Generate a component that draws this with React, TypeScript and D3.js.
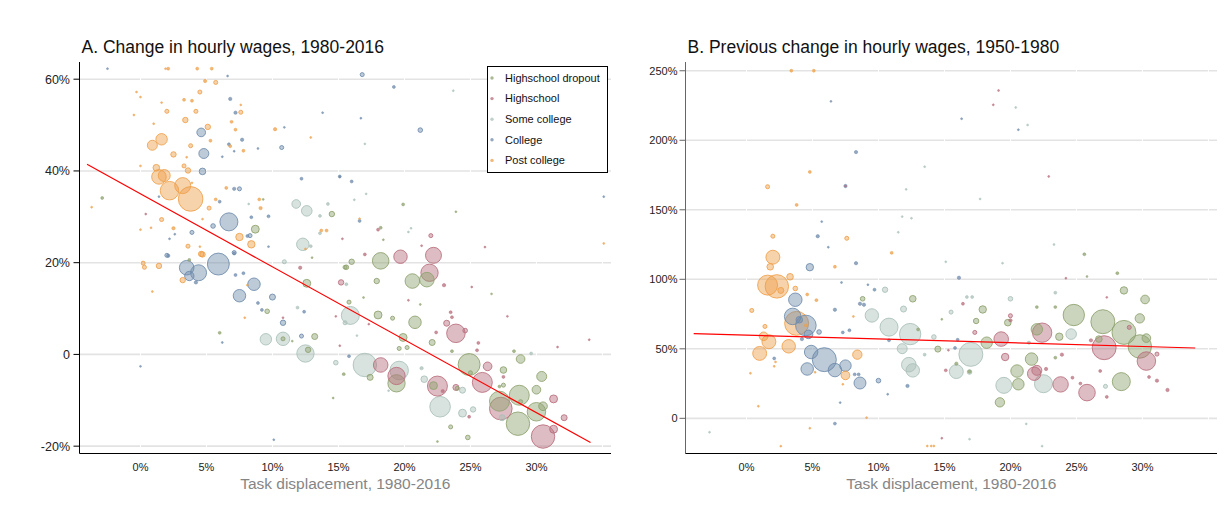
import React from 'react';
import * as d3 from 'd3';

// [task displacement %, wage change %, employment share]
type Pt = [number, number, number];

const groups = ['Highschool dropout', 'Highschool', 'Some college', 'College', 'Post college'];
const groupColors = ['#8ea26f', '#b86e7c', '#a9bfb8', '#6f8bab', '#eea04a'];

const xTicks = [0, 5, 10, 15, 20, 25, 30];
const xGrid = [0, 5, 10, 15, 20, 25, 30, 35];
const yTicksA = [-20, 0, 20, 40, 60];
const yTicksB = [0, 50, 100, 150, 200, 250];

const fitA = { intercept: 35.0, slope: -1.59, from: -4.05, to: 34.1 };
const fitB = { intercept: 59.8, slope: -0.271, from: -4.0, to: 34.0 };

// Panel A: change in hourly wages 1980-2016
const aDropout: Pt[] = [
  [-2.9, 34.1, 0.014], [8.7, 27.3, 0.1], [14.5, 30.6, 0.047], [9.3, 33.8, 0.006], [3.7, 20.6, 0.014],
  [13.0, 21.1, 0.006], [19.9, 32.7, 0.014], [23.9, 31.1, 0.006], [18.2, 27.6, 0.014],
  [13.2, 3.9, 0.058], [12.7, 1.0, 0.047], [12.6, 15.5, 0.1], [9.6, 9.4, 0.034], [6.0, 4.7, 0.014],
  [15.4, -4.3, 0.014], [15.6, 19.0, 0.034], [10.8, 3.4, 0.026], [11.5, 2.9, 0.006],
  [18.2, 20.4, 0.44], [16.0, 20.2, 0.047], [15.5, 19.0, 0.026], [17.9, 16.0, 0.047], [18.0, 8.6, 0.1],
  [19.1, 7.9, 0.026], [20.8, 7.0, 0.25], [21.7, 16.3, 0.34], [20.6, 16.0, 0.34], [15.8, 11.4, 0.026],
  [19.9, 3.7, 0.1], [22.1, 2.6, 0.058], [19.6, 1.3, 0.026], [20.2, 1.5, 0.026], [23.6, 0.7, 0.014],
  [17.4, -5.0, 0.058], [19.4, -6.3, 0.48], [22.2, -6.8, 0.1], [24.9, -2.2, 0.77], [25.0, -4.0, 0.026],
  [27.5, -3.4, 0.07], [28.8, -1.0, 0.12], [30.4, -4.8, 0.16], [30.0, -7.7, 0.12], [28.7, -8.9, 0.64],
  [27.2, -10.2, 0.64], [28.6, -15.1, 0.88], [30.0, -12.5, 0.55], [30.5, -11.3, 0.12], [23.5, -15.8, 0.026],
  [24.8, -18.1, 0.034], [28.8, -10.3, 0.026], [24.0, -7.4, 0.026], [27.5, -6.7, 0.026], [28.3, 0.7, 0.014],
  [27.2, -7.0, 0.014], [16.9, 12.4, 0.006], [21.2, 10.9, 0.006], [26.6, 13.2, 0.006], [14.6, -9.5, 0.006],
  [22.5, -19.0, 0.006], [18.4, 25.0, 0.006],
];
const aHighschool: Pt[] = [
  [0.4, 30.6, 0.006], [15.3, 25.2, 0.006], [18.0, 27.2, 0.014], [22.0, 25.9, 0.026], [21.3, 23.7, 0.006],
  [26.1, 23.4, 0.006], [12.1, 18.9, 0.018], [15.2, 15.7, 0.047], [10.8, 8.0, 0.006], [14.8, 8.3, 0.006],
  [15.1, 1.9, 0.006], [19.7, 21.3, 0.29], [22.2, 21.6, 0.41], [21.9, 17.8, 0.48], [17.0, 21.8, 0.014],
  [23.0, 15.1, 0.018], [23.9, 4.6, 0.55], [23.2, 6.8, 0.058], [24.6, 5.2, 0.034], [22.4, 4.8, 0.014],
  [18.2, -2.3, 0.34], [19.4, -4.7, 0.48], [22.5, -6.9, 0.64], [22.9, -8.0, 0.018], [25.9, -6.1, 0.64],
  [26.3, -2.6, 0.12], [27.5, -4.9, 0.014], [31.3, -9.7, 0.1], [27.3, -11.8, 0.82], [30.5, -17.9, 0.88],
  [31.3, -16.3, 0.1], [32.1, -13.8, 0.058], [23.9, -7.2, 0.058], [24.9, -13.6, 0.014], [23.5, 9.2, 0.014],
  [23.6, 8.1, 0.014], [25.6, 2.5, 0.014], [25.5, 0.9, 0.014], [34.0, 3.2, 0.006], [31.6, 1.6, 0.006],
  [20.3, 11.8, 0.006], [17.3, 6.6, 0.006], [27.8, 8.3, 0.006], [25.1, 14.7, 0.006],
];
const aSomeCollege: Pt[] = [
  [11.8, 32.8, 0.12], [12.6, 31.3, 0.18], [14.2, 32.8, 0.014], [13.6, 30.2, 0.014], [12.3, 24.0, 0.25],
  [12.9, 23.6, 0.014], [13.6, 26.4, 0.014], [8.2, 32.8, 0.006], [10.9, 20.2, 0.026], [23.7, 57.5, 0.006],
  [17.0, 45.9, 0.006], [16.2, 33.7, 0.006], [17.1, 35.0, 0.006], [20.3, 26.7, 0.006], [20.5, 27.5, 0.006],
  [9.5, 3.3, 0.21], [10.8, 3.4, 0.29], [12.5, 0.2, 0.48], [11.9, 10.2, 0.014], [14.8, -1.8, 0.034],
  [15.6, 15.3, 0.014], [15.9, 8.5, 0.52], [17.0, -2.3, 0.88], [19.6, -3.5, 0.55], [21.5, -5.4, 0.07],
  [21.3, -3.0, 0.018], [22.7, -11.4, 0.68], [24.4, -12.8, 0.1], [25.2, -12.0, 0.047], [27.4, -13.8, 0.058],
  [24.4, -7.8, 0.058], [29.6, 0.2, 0.014], [15.5, 6.9, 0.026], [16.4, 4.1, 0.006], [18.8, -7.9, 0.006],
];
const aCollege: Pt[] = [
  [-2.5, 62.3, 0.006], [6.6, 60.7, 0.006], [6.8, 55.7, 0.018], [7.2, 52.7, 0.018], [4.6, 48.4, 0.12],
  [4.8, 43.8, 0.16], [4.7, 39.9, 0.07], [7.7, 46.8, 0.018], [10.7, 45.1, 0.026], [6.7, 45.8, 0.014],
  [7.1, 44.3, 0.006], [13.8, 52.7, 0.006], [10.9, 49.5, 0.006], [8.9, 44.9, 0.006], [6.2, 43.1, 0.006],
  [12.2, 38.3, 0.014], [15.1, 38.8, 0.014], [7.5, 36.1, 0.026], [7.1, 36.1, 0.018], [6.0, 33.3, 0.014],
  [6.7, 28.9, 0.52], [5.5, 28.0, 0.034], [8.4, 29.9, 0.014], [9.7, 30.1, 0.014], [8.3, 25.9, 0.026],
  [8.1, 25.8, 0.014], [3.9, 26.6, 0.026], [2.6, 26.2, 0.006], [2.2, 25.2, 0.006], [9.7, 23.5, 0.006],
  [7.1, 22.2, 0.026], [2.0, 21.6, 0.026], [1.4, 34.4, 0.006], [16.8, 61.0, 0.026], [19.2, 58.3, 0.014],
  [16.7, 51.5, 0.006], [21.2, 48.9, 0.034], [15.1, 38.7, 0.006], [16.0, 37.7, 0.014], [16.6, 29.1, 0.014],
  [35.1, 34.4, 0.006], [5.9, 19.7, 0.77], [3.5, 18.9, 0.34], [4.4, 17.8, 0.41], [3.7, 17.1, 0.14],
  [4.2, 15.7, 0.018], [8.6, 15.3, 0.25], [7.5, 12.8, 0.25], [10.0, 12.5, 0.058], [10.8, 6.9, 0.047],
  [12.2, 4.0, 0.026], [8.9, 11.2, 0.014], [9.2, 9.7, 0.014], [2.1, 21.5, 0.018], [7.1, 22.0, 0.014],
  [7.2, 17.3, 0.014], [7.8, 17.7, 0.014], [0.0, -2.6, 0.006], [6.2, 2.6, 0.006], [10.1, -18.6, 0.006],
  [12.4, 9.3, 0.014], [15.8, -0.4, 0.014],
];
const aPostCollege: Pt[] = [
  [2.1, 62.3, 0.014], [1.9, 62.3, 0.006], [4.3, 62.3, 0.014], [5.4, 62.3, 0.014], [4.9, 59.6, 0.018],
  [5.7, 59.3, 0.026], [4.5, 57.2, 0.026], [-0.3, 57.2, 0.006], [0.0, 56.1, 0.006], [3.3, 55.5, 0.014],
  [3.9, 55.3, 0.014], [1.6, 54.9, 0.006], [7.6, 54.4, 0.006], [2.0, 53.0, 0.026], [4.2, 53.0, 0.026],
  [7.6, 52.8, 0.026], [-0.5, 52.2, 0.006], [3.4, 51.1, 0.047], [6.9, 50.7, 0.014], [5.1, 49.6, 0.047],
  [1.0, 50.3, 0.006], [7.2, 49.0, 0.014], [10.2, 49.1, 0.018], [0.9, 45.6, 0.16], [1.6, 46.9, 0.21],
  [2.5, 43.6, 0.047], [3.8, 45.5, 0.026], [5.3, 46.6, 0.014], [3.5, 43.0, 0.006], [6.8, 45.4, 0.014],
  [7.8, 44.4, 0.014], [12.9, 47.3, 0.006], [1.2, 40.7, 0.07], [1.4, 38.7, 0.34], [1.8, 39.0, 0.23],
  [2.2, 35.7, 0.55], [3.2, 36.8, 0.41], [3.8, 33.9, 0.97], [3.3, 41.1, 0.026], [3.6, 40.1, 0.047],
  [3.9, 37.4, 0.006], [6.5, 36.3, 0.014], [5.2, 31.9, 0.026], [5.7, 33.8, 0.014], [9.0, 33.8, 0.014],
  [9.1, 31.9, 0.018], [1.6, 29.4, 0.026], [2.5, 27.5, 0.018], [4.7, 29.5, 0.006], [7.5, 25.6, 0.088],
  [8.4, 24.0, 0.088], [3.6, 23.6, 0.026], [4.6, 21.9, 0.047], [4.5, 23.5, 0.006], [0.8, 27.6, 0.006],
  [13.7, 27.0, 0.014], [14.1, 27.0, 0.014], [12.5, 23.0, 0.006], [-3.7, 32.1, 0.006], [0.0, 41.1, 0.006],
  [0.0, 27.2, 0.006], [16.6, 29.6, 0.006], [35.1, 24.2, 0.006], [0.2, 19.9, 0.026], [0.3, 19.0, 0.026],
  [1.4, 19.3, 0.047], [3.2, 16.2, 0.047], [4.7, 21.8, 0.047], [0.9, 13.7, 0.006], [7.9, 8.0, 0.006],
  [8.1, 15.1, 0.006],
];

// Panel B: previous change in hourly wages 1950-1980
const bDropout: Pt[] = [
  [8.8, 86, 0.034], [12.6, 86, 0.07], [14.5, 49.8, 0.058], [13.0, 63.9, 0.014], [17.9, 78.3, 0.088],
  [17.4, 70, 0.047], [18.2, 54.4, 0.21], [19.8, 68.8, 0.07], [21.6, 42.6, 0.25], [20.5, 34.0, 0.25],
  [20.6, 24.5, 0.21], [19.2, 11.5, 0.14], [22.0, 64, 0.21], [23.7, 58.7, 0.088], [24.8, 74.3, 0.73],
  [27.0, 69.5, 0.92], [28.6, 61.8, 0.92], [29.8, 51.7, 0.88], [28.4, 26.4, 0.52], [28.6, 92, 0.088],
  [30.2, 85.5, 0.12], [29.8, 71.9, 0.14], [30.3, 57.7, 0.12], [15.9, 39.3, 0.018], [23.4, 43.6, 0.014],
  [26.7, 57.0, 0.07], [16.9, 33.6, 0.018], [22.0, 80, 0.014], [23.4, 80, 0.014], [25.6, 118, 0.014],
  [28.1, 104.4, 0.014], [25.8, 102, 0.006], [14.8, 71.2, 0.006],
];
const bHighschool: Pt[] = [
  [22.4, 61.6, 0.6], [19.3, 57, 0.34], [21.8, 32.1, 0.29], [22.0, 34.5, 0.16], [23.8, 24.4, 0.38],
  [25.8, 18.5, 0.44], [27.1, 50.8, 0.92], [30.3, 41.2, 0.55], [19.6, 44.1, 0.088], [20.0, 73.8, 0.026],
  [20.0, 70.5, 0.018], [17.3, 61.8, 0.026], [31.1, 46.2, 0.026], [31.1, 27.1, 0.018], [31.9, 20.4, 0.018],
  [26.1, 56.1, 0.018], [29.0, 65.4, 0.026], [22.7, 35.5, 0.018], [23.9, 45.8, 0.018], [24.2, 100.8, 0.006],
  [27.3, 87, 0.006], [18.7, 225.5, 0.006], [19.1, 235.8, 0.006], [7.5, 167, 0.006], [22.9, 174, 0.006],
  [27.3, 15.4, 0.014], [30.5, 29.7, 0.014], [24.7, 29.2, 0.014], [25.3, 25, 0.014], [26.8, 34, 0.014],
  [16.4, 82.4, 0.014], [15.1, 34.5, 0.014], [15.3, 49, 0.006], [14.8, -14.3, 0.006],
];
const bSomeCollege: Pt[] = [
  [9.5, 74, 0.29], [10.8, 65.6, 0.52], [12.4, 60.6, 0.73], [11.8, 50.1, 0.16], [12.3, 38.6, 0.34],
  [12.6, 34.5, 0.29], [10.5, 92.5, 0.047], [11.9, 78.6, 0.058], [14.2, 58.5, 0.034], [13.5, 45.8, 0.014],
  [15.5, 76.4, 0.026], [15.1, 112.6, 0.006], [17.0, 46.0, 0.92], [15.9, 33.6, 0.31], [19.5, 23.7, 0.41],
  [22.5, 24.9, 0.52], [20.0, 86, 0.034], [24.6, 60.6, 0.18], [27.2, 23.0, 0.026], [21.4, 54.4, 0.018],
  [23.4, 90.3, 0.014], [16.7, 87.2, 0.014], [17.1, 87.2, 0.014], [16.9, 33.3, 0.034], [20.4, 223.6, 0.006],
  [21.3, 211, 0.006], [13.5, 181, 0.006], [12.1, 164.7, 0.006], [17.7, 157.8, 0.006], [11.8, 145.1, 0.006],
  [12.5, 143.9, 0.006], [11.5, 133.8, 0.006], [16.9, -15, 0.006], [21.2, -4, 0.006], [22.4, -20, 0.006],
  [19.4, 111.6, 0.006], [23.3, 125, 0.006], [-2.8, -10, 0.006],
];
const bCollege: Pt[] = [
  [4.8, 108.7, 0.088], [3.7, 85.3, 0.29], [3.5, 73.3, 0.44], [4.5, 66.8, 0.68], [4.0, 70.9, 0.07],
  [4.7, 60.4, 0.12], [4.2, 57, 0.018], [5.5, 62.1, 0.034], [4.9, 47.7, 0.29], [5.9, 42.2, 0.92],
  [4.6, 35.5, 0.25], [6.7, 34.7, 0.29], [7.5, 37.9, 0.21], [8.6, 25.4, 0.23], [10.0, 27.1, 0.034],
  [6.7, 78.1, 0.018], [7.3, 61.8, 0.014], [7.8, 63.3, 0.014], [8.3, 111.6, 0.018], [9.7, 92.5, 0.014],
  [8.6, 82.4, 0.018], [8.9, 81.7, 0.018], [8.2, 31.6, 0.014], [8.5, 31.6, 0.014], [12.2, 23.3, 0.018],
  [10.8, 56.1, 0.014], [2.1, 43.1, 0.014], [6.7, -3.8, 0.014], [6.2, 123.1, 0.006], [7.1, 11.3, 0.006],
  [7.2, 97.7, 0.006], [9.2, 96.1, 0.006], [10.7, 17.3, 0.006], [16.1, 101.1, 0.018], [15.8, 50.6, 0.014],
  [16.0, 56.5, 0.014], [6.4, 228, 0.006], [16.3, 215.5, 0.006], [20.6, 207.6, 0.006], [8.3, 191.5, 0.018],
  [7.5, 167.1, 0.018], [5.7, 141.5, 0.006], [5.4, 131, 0.018],
];
const bPostCollege: Pt[] = [
  [2.0, 115.9, 0.31], [1.8, 109, 0.07], [3.3, 101.8, 0.07], [1.6, 95.8, 0.64], [2.3, 94.9, 0.88],
  [2.6, 92, 0.058], [3.7, 93.4, 0.034], [0.4, 77.6, 0.026], [4.6, 89.1, 0.014], [5.3, 85, 0.014],
  [3.8, 68.3, 0.92], [4.5, 66.8, 0.014], [1.4, 66.1, 0.026], [1.3, 59, 0.12], [1.7, 55.1, 0.31],
  [3.2, 51.8, 0.29], [1.0, 46.7, 0.31], [8.4, 45.8, 0.14], [7.5, 30.9, 0.12], [6.7, 109, 0.014],
  [11.0, 119, 0.014], [0.3, 32.4, 0.006], [0.9, 8.7, 0.006], [4.8, -7.1, 0.006], [2.6, -20, 0.006],
  [9.1, 0.5, 0.006], [13.7, -19.9, 0.006], [14.0, -19.9, 0.006], [14.2, -19.9, 0.006], [2.2, 40.6, 0.006],
  [2.1, 37.4, 0.006], [5.2, 33.1, 0.006], [8.1, 73.3, 0.006], [7.3, 24.5, 0.006], [3.4, 250, 0.014],
  [5.1, 250, 0.014], [4.8, 177.2, 0.014], [1.6, 166.6, 0.026], [3.8, 153.5, 0.014], [2.0, 131, 0.026],
  [7.6, 129.5, 0.026],
];

const seriesA = [aDropout, aHighschool, aSomeCollege, aCollege, aPostCollege];
const seriesB = [bDropout, bHighschool, bSomeCollege, bCollege, bPostCollege];

const FONT = '"Liberation Sans", Arial, Helvetica, sans-serif';
const TOP = 62;
const BOTTOM = 453.5;

const rScale = d3.scaleSqrt().domain([0, 1]).range([0, 12.5]);

const pctLabel = (v: number) => (v === 0 ? '0' : `${v}%`);

interface PanelProps {
  id: string;
  left: number;
  right: number;
  title: string;
  yDomain: [number, number];
  yTicks: number[];
  fit: { intercept: number; slope: number; from: number; to: number };
  series: Pt[][];
  yAxisColor: string;
  yLabelSize: number;
  yLabelGap: number;
  showLegend?: boolean;
}

const Panel: React.FC<PanelProps> = ({
  id, left, right, title, yDomain, yTicks, fit, series, yAxisColor, yLabelSize, yLabelGap, showLegend,
}) => {
  const x = d3.scaleLinear().domain([-4.62, 35.65]).range([left, right]);
  const y = d3.scaleLinear().domain(yDomain).range([BOTTOM, TOP]);

  const pts = series
    .flatMap((s, g) => s.map((p) => ({ x: p[0], y: p[1], w: p[2], g })))
    .sort((a, b) => b.w - a.w);

  const line = d3.line<number>().x((d) => x(d)).y((d) => y(fit.intercept + fit.slope * d));

  return (
    <g>
      <defs>
        <clipPath id={`clip-${id}`}>
          <rect x={left} y={TOP} width={right - left} height={BOTTOM - TOP} />
        </clipPath>
      </defs>

      <text x={left + 2} y={53} fontSize={17.5} fill="#111" fontFamily={FONT}>{title}</text>

      {/* horizontal grid */}
      {yTicks.map((t) => (
        <line key={`g-${t}`} x1={left} x2={right} y1={y(t)} y2={y(t)} stroke="#e3e3e3" strokeWidth={1.6} />
      ))}
      {/* white vertical grid breaks */}
      {xGrid.map((t) => (
        <line key={`v-${t}`} x1={x(t)} x2={x(t)} y1={TOP} y2={BOTTOM} stroke="#fff" strokeWidth={1} />
      ))}

      <g clipPath={`url(#clip-${id})`}>
        {pts.map((p, i) => {
          const r = Math.max(rScale(p.w), 0.9);
          const c = groupColors[p.g];
          return (
            <circle
              key={i}
              cx={x(p.x)}
              cy={y(p.y)}
              r={r}
              fill={c}
              fillOpacity={r < 2 ? 0.75 : 0.46}
              stroke={c}
              strokeOpacity={0.85}
              strokeWidth={r < 2 ? 0.6 : 1}
            />
          );
        })}
        <path d={line([fit.from, fit.to]) || ''} fill="none" stroke="#ff0000" strokeWidth={1.2} />
      </g>

      {/* axes */}
      <line x1={left} x2={left} y1={TOP} y2={BOTTOM} stroke={yAxisColor} strokeWidth={1} />
      <line x1={left} x2={right} y1={BOTTOM} y2={BOTTOM} stroke="#000" strokeWidth={1} />
      {yTicks.map((t) => (
        <g key={`yt-${t}`}>
          <line x1={left - 6} x2={left} y1={y(t)} y2={y(t)} stroke={yAxisColor} strokeWidth={1} />
          <text x={left - yLabelGap} y={y(t)} dy="0.35em" textAnchor="end" fontSize={yLabelSize} fill="#222" fontFamily={FONT}>
            {pctLabel(t)}
          </text>
        </g>
      ))}
      {xTicks.map((t) => (
        <text key={`xt-${t}`} x={x(t)} y={471} textAnchor="middle" fontSize={11} fill="#222" fontFamily={FONT}>
          {`${t}%`}
        </text>
      ))}
      <text x={(left + right) / 2} y={488.5} textAnchor="middle" fontSize={15.5} fill="#858585" fontFamily={FONT}>
        Task displacement, 1980-2016
      </text>

      {showLegend && (
        <g>
          <rect x={487.5} y={66.5} width={120} height={106} fill="#fff" stroke="#000" strokeWidth={1} />
          {groups.map((g, i) => (
            <g key={g} transform={`translate(0, ${78 + i * 20.6})`}>
              <circle cx={492} cy={0} r={1.7} fill={groupColors[i]} fillOpacity={0.75} />
              <text x={505} y={0} dy="0.35em" fontSize={11} fill="#111" fontFamily={FONT}>{g}</text>
            </g>
          ))}
        </g>
      )}
    </g>
  );
};

export default function App() {
  return (
    <div style={{ position: 'absolute', left: 0, top: 0 }}>
      <svg width={1228} height={517} viewBox="0 0 1228 517" style={{ display: 'block', background: '#fff' }}>
        <rect width={1228} height={517} fill="#fff" />
        <Panel
          id="a"
          left={79.5}
          right={611}
          title="A. Change in hourly wages, 1980-2016"
          yDomain={[-21.6, 63.75]}
          yTicks={yTicksA}
          fit={fitA}
          series={seriesA}
          yAxisColor="#000"
          yLabelSize={12.5}
          yLabelGap={9.5}
          showLegend
        />
        <Panel
          id="b"
          left={685.5}
          right={1217}
          title="B. Previous change in hourly wages, 1950-1980"
          yDomain={[-25.3, 256.3]}
          yTicks={yTicksB}
          fit={fitB}
          series={seriesB}
          yAxisColor="#666"
          yLabelSize={11}
          yLabelGap={8}
        />
      </svg>
    </div>
  );
}
